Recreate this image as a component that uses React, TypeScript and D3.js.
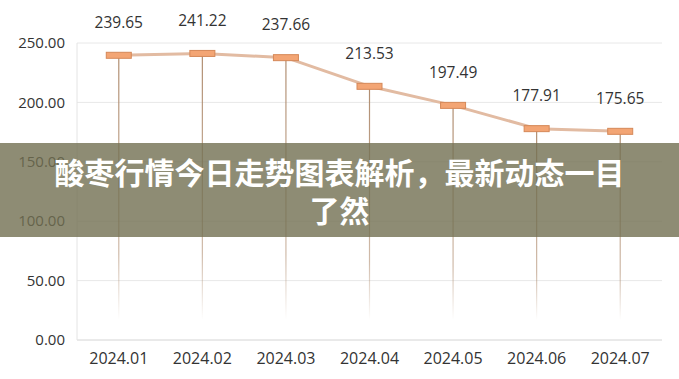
import React from "react";
import * as d3 from "d3";

const categories = ["2024.01", "2024.02", "2024.03", "2024.04", "2024.05", "2024.06", "2024.07"];
const values = [239.65, 241.22, 237.66, 213.53, 197.49, 177.91, 175.65];
const yTicks = [0, 50, 100, 150, 200, 250];
const titleLines = ["酸枣行情今日走势图表解析，最新动态一目", "了然"];

const W = 679;
const H = 379;
const left = 77;
const right = 662;
const top = 43;
const bottom = 340;

export default function App() {
  const x = d3.scaleBand<string>().domain(categories).range([left, right]).padding(0);
  const y = d3.scaleLinear().domain([0, 250]).range([bottom, top]);
  const cx = (c: string) => (x(c) as number) + x.bandwidth() / 2;
  const line = d3
    .line<number>()
    .x((_, i) => cx(categories[i]))
    .y((d) => y(d));

  return (
    <svg
      width={W}
      height={H}
      style={{ position: "absolute", left: 0, top: 0, background: "#fff" }}
      fontFamily="'Open Sans', 'Noto Sans', sans-serif"
    >
      <defs>
        <linearGradient id="drop" gradientUnits="objectBoundingBox" x1="0" y1="0" x2="0" y2="1">
          <stop offset="0" stopColor="#b08d70" stopOpacity="1" />
          <stop offset="0.75" stopColor="#b08d70" stopOpacity="0.6" />
          <stop offset="1" stopColor="#b08d70" stopOpacity="0" />
        </linearGradient>
      </defs>
      <rect x={0} y={0} width={W} height={H} fill="#fff" />
      {yTicks.map((t) => (
        <g key={t}>
          <line x1={left} x2={right} y1={y(t)} y2={y(t)} stroke={t === 0 ? "#d4d4d4" : "#e8e8e8"} strokeWidth={1} />
          <text x={65} y={y(t)} dy="0.35em" textAnchor="end" fontSize={15} fill="#333">
            {t.toFixed(2)}
          </text>
        </g>
      ))}
      <line x1={left} x2={left} y1={top} y2={bottom} stroke="#e4e4e4" strokeWidth={1} />
      {categories.map((c, i) => (
        <g key={c}>
          <rect
            x={cx(c) - 0.6}
            y={y(values[i])}
            width={1.2}
            height={320 - y(values[i])}
            fill="url(#drop)"
          />
          <text x={cx(c)} y={358} dy="0.35em" textAnchor="middle" fontSize={16} fill="#333">
            {c}
          </text>
        </g>
      ))}
      <path d={line(values) || ""} fill="none" stroke="#e2bba2" strokeWidth={3} strokeLinejoin="round" />
      {categories.map((c, i) => (
        <g key={c + "m"}>
          <rect
            x={cx(c) - 12.5}
            y={y(values[i]) - 3}
            width={25}
            height={6}
            fill="#f3a574"
            stroke="#d58858"
            strokeWidth={1}
          />
          <text x={cx(c)} y={y(values[i]) - 33} dy="0.35em" textAnchor="middle" fontSize={15.5} fill="#333">
            {values[i].toFixed(2)}
          </text>
        </g>
      ))}
      <rect x={0} y={143} width={W} height={94} fill="rgba(114,111,81,0.8)" />
      {titleLines.map((t, i) => (
        <text
          key={i}
          x={W / 2}
          y={173 + i * 38}
          dy="0.35em"
          textAnchor="middle"
          fontSize={30}
          fontWeight="bold"
          fill="#fff"
          fontFamily="'Noto Sans CJK SC', sans-serif"
        >
          {t}
        </text>
      ))}
    </svg>
  );
}
